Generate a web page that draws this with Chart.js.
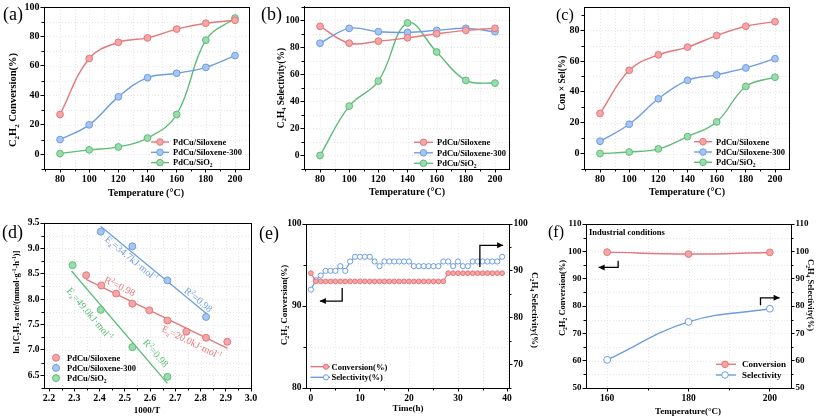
<!DOCTYPE html>
<html><head><meta charset="utf-8">
<script src="https://cdn.jsdelivr.net/npm/chart.js@4.4.0/dist/chart.umd.min.js"></script>
<style>
html,body{margin:0;padding:0;background:#fff;}
#root{position:relative;width:817px;height:418px;overflow:hidden;background:#fff;}
canvas{position:absolute;}
.lbl{position:absolute;font-family:'Liberation Serif','Times New Roman',serif;color:#000;line-height:1;white-space:nowrap;}
</style></head><body>
<div id="root">
<canvas id="ca" style="left:0px;top:0px" width="270" height="205"></canvas>
<canvas id="cb" style="left:270px;top:0px" width="270" height="205"></canvas>
<canvas id="cc" style="left:540px;top:0px" width="277" height="205"></canvas>
<canvas id="cd" style="left:0px;top:205px" width="270" height="213"></canvas>
<canvas id="ce" style="left:270px;top:205px" width="270" height="213"></canvas>
<canvas id="cf" style="left:540px;top:205px" width="277" height="213"></canvas>
<div class="lbl" style="left:3px;top:5px;font-size:18px">(a)</div>
<div class="lbl" style="left:261px;top:5px;font-size:18px">(b)</div>
<div class="lbl" style="left:556px;top:7px;font-size:16px">(c)</div>
<div class="lbl" style="left:2px;top:223px;font-size:18px">(d)</div>
<div class="lbl" style="left:259px;top:224px;font-size:18px">(e)</div>
<div class="lbl" style="left:548px;top:224px;font-size:16px">(f)</div>
</div>
<script>
// ---------------- DATA ----------------
const temps = [80, 100, 120, 140, 160, 180, 200];
const convSiloxene = [27, 65, 76, 79, 85, 89, 91];
const convSiloxene300 = [10, 20, 39, 52, 55, 59, 67];
const convSiO2 = [0.5, 3, 5, 11, 27, 77.5, 92.5];
const selSiloxene = [95.5, 83, 84.5, 87, 90, 92.5, 94];
const selSiloxene300 = [83, 94, 91.5, 91, 92.5, 94, 91.5];
const selSiO2 = [0, 36.5, 55, 98, 76.5, 55.5, 53.5];
const yieldSiloxene = [26, 54, 64, 69, 76.5, 82.5, 85.5];
const yieldSiloxene300 = [8, 19, 35.5, 47.5, 51, 55.5, 61.5];
const yieldSiO2 = [0, 1, 3, 11, 20.5, 43.5, 49.5];

const invTSiloxene = [2.347, 2.407, 2.466, 2.530, 2.597, 2.669, 2.744, 2.822, 2.906];
const lnRateSiloxene = [8.47, 8.27, 8.11, 7.91, 7.78, 7.58, 7.36, 7.24, 7.16];
const invTSiloxene300 = [2.405, 2.530, 2.669, 2.822];
const lnRateSiloxene300 = [9.33, 9.04, 8.37, 7.65];
const invTSiO2 = [2.293, 2.405, 2.530, 2.669];
const lnRateSiO2 = [8.67, 7.79, 7.055, 6.47];
const fitXSiloxene = [2.347, 2.907], fitYSiloxene = [8.39, 7.03];
const fitXSiloxene300 = [2.405, 2.828], fitYSiloxene300 = [9.43, 7.70];
const fitXSiO2 = [2.289, 2.669], fitYSiO2 = [8.555, 6.34];

const hours = [0,1,2,3,4,5,6,7,8,9,10,11,12,13,14,15,16,17,18,19,20,21,22,23,24,25,26,27,28,29,30,31,32,33,34,35,36,37,38,39];
const stabConv = [94,93,93,93,93,93,93,93,93,93,93,93,93,93,93,93,93,93,93,93,93,93,93,93,93,93,93,93,94,94,94,94,94,94,94,94,94,94,94,94];
const stabSel = [86,88,89,90,90,90,91,90,92,93,93,93,93,92,91,92,92,92,92,92,92,91,91,91,91,91,91,92,92,91,92,91,91,92,92,92,92,92,92,93];

const indTemps = [160, 180, 200];
const indConv = [99.7, 99, 99.6];
const indSel = [60.3, 74.2, 79];

const ticksTemp = [80, 100, 120, 140, 160, 180, 200];
const ticksConvA = [0, 20, 40, 60, 80, 100];
const ticksSelB = [0, 20, 40, 60, 80, 100];
const ticksYieldC = [0, 20, 40, 60, 80];
const ticksInvT = [2.2, 2.3, 2.4, 2.5, 2.6, 2.7, 2.8, 2.9, 3.0];
const ticksLnRate = [6.5, 7.0, 7.5, 8.0, 8.5, 9.0, 9.5];
const ticksHours = [0, 10, 20, 30, 40];
const ticksConvE = [80, 90, 100];
const ticksSelE = [70, 80, 90, 100];
const ticksIndT = [160, 180, 200];
const ticksInd = [50, 60, 70, 80, 90, 100, 110];

const labelSiloxene = 'PdCu/Siloxene';
const labelSiloxene300 = 'PdCu/Siloxene-300';
const labelSiO2 = 'PdCu/SiO_2';

// ---------------- STYLE ----------------
const FONT = "'Liberation Serif','Times New Roman',serif";
const RED = {line:'#e5787b', fill:'#f3a5a7'};
const BLUE = {line:'#6c9de2', fill:'#a8c5ef'};
const GREEN = {line:'#5cbd76', fill:'#9cdbae'};

function parseRich(s){
  const segs=[]; let i=0, buf='';
  while(i<s.length){
    const c=s[i];
    if((c==='_'||c==='^') && i+1<s.length){
      if(buf){segs.push({t:buf,m:0});buf='';}
      let txt;
      if(s[i+1]==='{'){const j=s.indexOf('}',i); txt=s.slice(i+2,j); i=j+1;}
      else {txt=s[i+1]; i+=2;}
      segs.push({t:txt,m:c==='_'?1:2});
    } else {buf+=c;i++;}
  }
  if(buf) segs.push({t:buf,m:0});
  return segs;
}
function rich(ctx, s, x, y, size, o){
  o=o||{};
  const segs=parseRich(s);
  const wt=o.bold===false?'':'bold ';
  const fontFor=m=>wt+(m?size*0.66:size)+'px '+FONT;
  let w=0;
  segs.forEach(g=>{ctx.font=fontFor(g.m); g.w=ctx.measureText(g.t).width; w+=g.w;});
  ctx.save(); ctx.translate(x,y); if(o.rot) ctx.rotate(o.rot);
  ctx.fillStyle=o.color||'#000'; ctx.textBaseline='alphabetic'; ctx.textAlign='left';
  let cx = o.align==='left'?0:(o.align==='right'?-w:-w/2);
  const base=size*0.33;
  segs.forEach(g=>{ctx.font=fontFor(g.m); const dy=g.m===1?size*0.24:(g.m===2?-size*0.38:0); ctx.fillText(g.t,cx,base+dy); cx+=g.w;});
  ctx.restore();
}
function marker(ctx,x,y,r,fill,stroke){
  ctx.save(); ctx.beginPath(); ctx.arc(x,y,r,0,Math.PI*2); ctx.fillStyle=fill; ctx.fill();
  ctx.lineWidth=1; ctx.strokeStyle=stroke; ctx.stroke(); ctx.restore();
}
function legend(chart,L){
  const ctx=chart.ctx;
  L.idx.forEach((di,k)=>{
    const ds=chart.data.datasets[di]; const y=L.y0+k*L.dy;
    if(L.line){ctx.save();ctx.strokeStyle=ds.borderColor;ctx.lineWidth=1.4;ctx.beginPath();ctx.moveTo(L.x1,y);ctx.lineTo(L.x2,y);ctx.stroke();ctx.restore();}
    marker(ctx,L.mx,y,L.r||3.3,ds.pointBackgroundColor,ds.pointBorderColor);
    rich(ctx,ds.label,L.tx,y,L.size,{align:'left'});
  });
}
function arrow(chart, pts, yid){
  const ctx=chart.ctx, sx=chart.scales.x, sy=chart.scales[yid||'y'];
  const p=pts.map(q=>[sx.getPixelForValue(q[0]), sy.getPixelForValue(q[1])]);
  ctx.save(); ctx.strokeStyle='#000'; ctx.fillStyle='#000'; ctx.lineWidth=1.3;
  ctx.beginPath(); ctx.moveTo(p[0][0],p[0][1]);
  for(let i=1;i<p.length;i++) ctx.lineTo(p[i][0],p[i][1]);
  ctx.stroke();
  const a=p[p.length-1], b=p[p.length-2];
  const ang=Math.atan2(a[1]-b[1],a[0]-b[0]);
  ctx.beginPath(); ctx.moveTo(a[0],a[1]);
  ctx.lineTo(a[0]-6*Math.cos(ang)+3*Math.sin(ang), a[1]-6*Math.sin(ang)-3*Math.cos(ang));
  ctx.lineTo(a[0]-6*Math.cos(ang)-3*Math.sin(ang), a[1]-6*Math.sin(ang)+3*Math.cos(ang));
  ctx.closePath(); ctx.fill(); ctx.restore();
}
const pts=(xs,ys)=>xs.map((x,i)=>({x:x,y:ys[i]}));
function ser(label,xs,ys,col,extra){
  return Object.assign({label:label,data:pts(xs,ys),borderColor:col.line,backgroundColor:col.fill,
    pointBackgroundColor:col.fill,pointBorderColor:col.line,pointBorderWidth:1,pointRadius:3.4,
    borderWidth:1.4,tension:0.4,fill:false},extra||{});
}
function scale(min,max,ticks,size,fmt,extra){
  return Object.assign({type:'linear',min:min,max:max,
    afterBuildTicks:s=>{s.ticks=ticks.map(v=>({value:v}));},
    ticks:{font:{family:FONT,size:size,weight:'bold'},color:'#000',padding:1,autoSkip:false,maxRotation:0,
      callback:fmt||(v=>String(v))},
    grid:{drawOnChartArea:false,color:'#000',tickLength:3.5,lineWidth:1},
    border:{color:'#000',width:1}},extra||{});
}
const gridPlugin={id:'bggrid',beforeDatasetsDraw(c){
  const ctx=c.ctx, a=c.chartArea; ctx.save(); ctx.strokeStyle='#e6e6e6'; ctx.lineWidth=1; ctx.setLineDash([1,2]);
  const sx=c.scales.x, sy=c.scales.y;
  const mids=(s)=>{const v=s.ticks.map(t=>t.value); const out=[]; for(let i=0;i<v.length;i++){out.push(v[i]); if(i<v.length-1) out.push((v[i]+v[i+1])/2);} return out;};
  mids(sx).forEach(v=>{const p=Math.round(sx.getPixelForValue(v))+0.5; if(p>a.left+1&&p<a.right-1){ctx.beginPath();ctx.moveTo(p,a.top);ctx.lineTo(p,a.bottom);ctx.stroke();}});
  mids(sy).forEach(v=>{const p=Math.round(sy.getPixelForValue(v))+0.5; if(p>a.top+1&&p<a.bottom-1){ctx.beginPath();ctx.moveTo(a.left,p);ctx.lineTo(a.right,p);ctx.stroke();}});
  ctx.restore();
}};
const framePlugin={id:'frame',afterDraw(c){
  const ctx=c.ctx, a=c.chartArea; ctx.save(); ctx.strokeStyle='#000'; ctx.lineWidth=1;
  ctx.strokeRect(Math.round(a.left)+0.5,Math.round(a.top)+0.5,Math.round(a.right)-Math.round(a.left),Math.round(a.bottom)-Math.round(a.top));
  const minor=(s,axis,side)=>{const v=s.ticks.map(t=>t.value); const step=v[1]-v[0];
    const cand=[]; cand.push(v[0]-step/2); for(let i=0;i<v.length-1;i++) cand.push((v[i]+v[i+1])/2); cand.push(v[v.length-1]+step/2);
    cand.forEach(m=>{ if(m<s.min||m>s.max) return; const p=Math.round(s.getPixelForValue(m))+0.5; ctx.beginPath();
      if(axis==='x'){ctx.moveTo(p,Math.round(a.bottom));ctx.lineTo(p,Math.round(a.bottom)+2.5);}
      else if(side==='l'){ctx.moveTo(Math.round(a.left),p);ctx.lineTo(Math.round(a.left)-2.5,p);}
      else {ctx.moveTo(Math.round(a.right),p);ctx.lineTo(Math.round(a.right)+2.5,p);} ctx.stroke();});};
  minor(c.scales.x,'x'); minor(c.scales.y,'y','l'); if(c.scales.y2) minor(c.scales.y2,'y','r');
  ctx.restore();
}};
function build(id,W,H,A,datasets,scales,draw){
  scales.x.afterFit=s=>{s.height=H-A.b;};
  scales.y.afterFit=s=>{s.width=A.l;};
  if(scales.y2) scales.y2.afterFit=s=>{s.width=W-A.r;};
  return new Chart(document.getElementById(id),{type:'line',data:{datasets:datasets},
    options:{responsive:false,animation:false,devicePixelRatio:1,
      layout:{padding:{left:0,top:A.t,right:scales.y2?0:W-A.r,bottom:0}},
      plugins:{legend:{display:false},tooltip:{enabled:false}},scales:scales},
    plugins:[gridPlugin,framePlugin,{id:'deco',afterDraw:c=>draw(c)}]});
}

// ---------------- (a) ----------------
build('ca',270,205,{l:44,r:249,t:5,b:169},[
  ser(labelSiloxene,temps,convSiloxene,RED),
  ser(labelSiloxene300,temps,convSiloxene300,BLUE),
  ser(labelSiO2,temps,convSiO2,GREEN)
],{x:scale(69,209.6,ticksTemp,10),y:scale(-10,100,ticksConvA,10)},c=>{
  rich(c.ctx,'C_2H_2 Conversion(%)',13,100,10.5,{rot:-Math.PI/2});
  rich(c.ctx,'Temperature (°C)',146,192.5,10);
  legend(c,{line:true,x1:151,x2:169,mx:160,tx:173,y0:142,dy:10.3,size:8.5,idx:[0,1,2]});
});

// ---------------- (b) ----------------
build('cb',270,205,{l:34,r:239,t:5,b:169},[
  ser(labelSiloxene,temps,selSiloxene,RED),
  ser(labelSiloxene300,temps,selSiloxene300,BLUE),
  ser(labelSiO2,temps,selSiO2,GREEN)
],{x:scale(69,209.6,ticksTemp,10),y:scale(-10,110,ticksSelB,9.5)},c=>{
  rich(c.ctx,'C_2H_4 Selectivity(%)',11,88,9.5,{rot:-Math.PI/2});
  rich(c.ctx,'Temperature (°C)',137,192,10);
  legend(c,{line:true,x1:144,x2:163,mx:153.5,tx:167,y0:142.3,dy:10.5,size:8.5,idx:[0,1,2]});
});

// ---------------- (c) ----------------
build('cc',277,205,{l:44,r:249,t:5,b:169},[
  ser(labelSiloxene,temps,yieldSiloxene,RED),
  ser(labelSiloxene300,temps,yieldSiloxene300,BLUE),
  ser(labelSiO2,temps,yieldSiO2,GREEN)
],{x:scale(69,209.6,ticksTemp,10),y:scale(-10,95,ticksYieldC,10)},c=>{
  rich(c.ctx,'Con × Sel(%)',22,83,9.5,{rot:-Math.PI/2});
  rich(c.ctx,'Temperature (°C)',147,192,10);
  legend(c,{line:true,x1:154,x2:172,mx:163,tx:176,y0:141.7,dy:10.3,size:8.5,idx:[0,1,2]});
});

// ---------------- (d) ----------------
const scat=(l,xs,ys,col)=>ser(l,xs,ys,col,{showLine:false,tension:0,pointRadius:3.5});
const fitl=(xs,ys,col)=>ser('fit',xs,ys,col,{pointRadius:0,tension:0,borderWidth:1.3});
const f1=v=>Number(v).toFixed(1);
build('cd',270,213,{l:44,r:251,t:18,b:183},[
  scat(labelSiloxene,invTSiloxene,lnRateSiloxene,RED),
  scat(labelSiloxene300,invTSiloxene300,lnRateSiloxene300,BLUE),
  scat(labelSiO2,invTSiO2,lnRateSiO2,GREEN),
  fitl(fitXSiloxene,fitYSiloxene,RED),
  fitl(fitXSiloxene300,fitYSiloxene300,BLUE),
  fitl(fitXSiO2,fitYSiO2,GREEN)
],{x:scale(2.18,3.0,ticksInvT,10,f1),y:scale(6.25,9.5,ticksLnRate,9.5,f1)},c=>{
  const ctx=c.ctx, sx=c.scales.x, sy=c.scales.y;
  const ang=(xs,ys)=>Math.atan2(sy.getPixelForValue(ys[1])-sy.getPixelForValue(ys[0]),sx.getPixelForValue(xs[1])-sx.getPixelForValue(xs[0]));
  const put=(t,x,y,col,a)=>rich(ctx,t,sx.getPixelForValue(x),sy.getPixelForValue(y),10,{bold:false,color:col,rot:a});
  const aB=ang(fitXSiloxene300,fitYSiloxene300), aR=ang(fitXSiloxene,fitYSiloxene), aG=ang(fitXSiO2,fitYSiO2);
  put('E_a=34.7kJ·mol^{-1}',2.527,8.80,BLUE.line,aB);
  put('R^2=0.98',2.792,7.99,BLUE.line,aB);
  put('R^2=0.98',2.480,8.255,RED.line,aR);
  put('E_a=20.0kJ·mol^{-1}',2.766,7.15,RED.line,aR);
  put('E_a=49.0kJ·mol^{-1}',2.362,7.71,GREEN.line,aG);
  put('R^2=0.98',2.6225,6.936,GREEN.line,aG);
  rich(ctx,'ln [C_2H_2 rate/(mmol·g^{-1}·h^{-1})]',16,97,8.5,{rot:-Math.PI/2});
  rich(ctx,'1000/T',147,205.5,9);
  legend(c,{line:false,mx:56,tx:67,y0:152.7,dy:10.2,size:8.5,r:3.5,idx:[0,1,2]});
});

// ---------------- (e) ----------------
build('ce',270,213,{l:36,r:239,t:19,b:183},[
  ser('Conversion(%)',hours,stabConv,RED,{tension:0,pointRadius:2.4,borderWidth:1.2,yAxisID:'y'}),
  ser('Selectivity(%)',hours,stabSel,{line:BLUE.line,fill:'#ffffff'},{tension:0,pointRadius:2.6,borderWidth:1.2,yAxisID:'y2'})
],{x:scale(-1,40.4,ticksHours,9.5),y:scale(80,100,ticksConvE,9.5),
   y2:scale(65,100,ticksSelE,9.5,null,{position:'right'})},c=>{
  rich(c.ctx,'C_2H_2 Conversion(%)',14,100,9,{rot:-Math.PI/2});
  rich(c.ctx,'C_2H_4 Selectivity(%)',265,105,9,{rot:Math.PI/2});
  rich(c.ctx,'Time(h)',138,203.5,9);
  arrow(c,[[6.38,92.2],[6.38,90.6],[1.83,90.6]]);
  arrow(c,[[34.46,94.76],[34.46,97.4],[39.2,97.4]]);
  legend(c,{line:true,x1:40.5,x2:60,mx:56,tx:61.5,y0:161.7,dy:10.6,size:8.5,r:2.6,idx:[0,1]});
});

// ---------------- (f) ----------------
build('cf',277,213,{l:46,r:251,t:19,b:183},[
  ser('Conversion',indTemps,indConv,RED,{pointRadius:3.4}),
  ser('Selectivity',indTemps,indSel,{line:BLUE.line,fill:'#ffffff'},{pointRadius:3.4,yAxisID:'y2'})
],{x:scale(154.8,205.2,ticksIndT,9.5),y:scale(50,110,ticksInd,9),
   y2:scale(50,110,ticksInd,9,null,{position:'right'})},c=>{
  rich(c.ctx,'C_2H_2 Conversion(%)',22,93,8.5,{rot:-Math.PI/2});
  rich(c.ctx,'C_2H_4 Selectivity(%)',271,90,8.5,{rot:Math.PI/2});
  rich(c.ctx,'Temperature(°C)',148,206.5,9);
  rich(c.ctx,'Industrial conditions',49,26.7,8.5,{align:'left'});
  arrow(c,[[162.7,96.55],[162.7,94.13],[157.9,94.13]]);
  arrow(c,[[197.7,80.3],[197.7,83.0],[202.4,83.0]]);
  legend(c,{line:true,x1:176,x2:196,mx:185,tx:202,y0:159.3,dy:10.7,size:9,r:3.3,idx:[0,1]});
});
</script>
</body></html>
